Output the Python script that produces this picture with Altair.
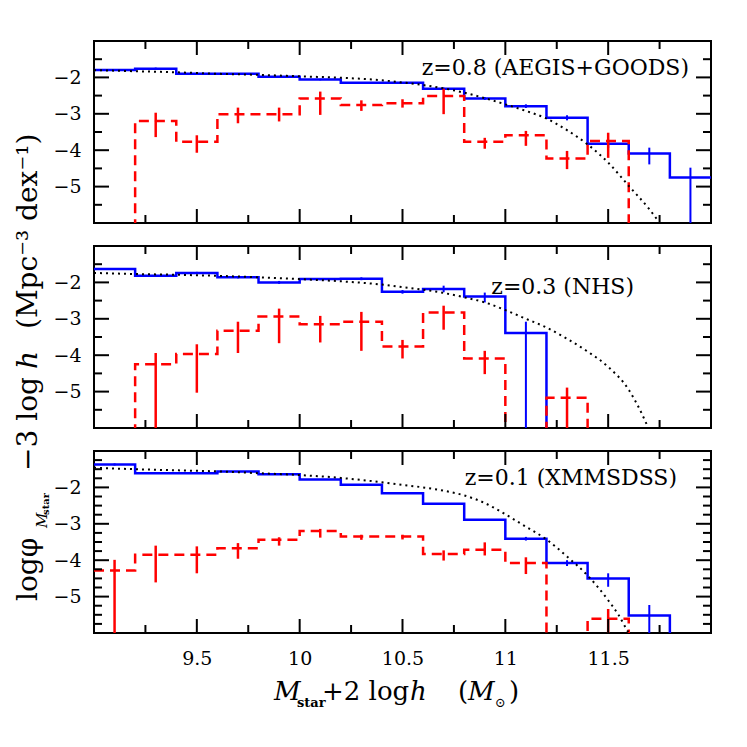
import altair as alt
import pandas as pd

FLOOR = -9.0  # empty bin: drawn below the bottom of the axis
bin_lo = [9.0, 9.2, 9.4, 9.6, 9.8, 10.0, 10.2, 10.4, 10.6, 10.8, 11.0, 11.2, 11.4, 11.6, 11.8]
last_edge = 12.0

# ---------------- panel 1 : z=0.8 (AEGIS+GOODS)
p1_blue = [-1.80, -1.76, -1.90, -1.90, -1.98, -2.06, -2.15, -2.15, -2.31, -2.58, -2.79, -3.11, -3.82, -4.09, -4.75]
p1_blue_eh = [0.02, 0.03, 0.02, 0.02, 0.02, 0.02, 0.02, 0.02, 0.03, 0.04, 0.05, 0.07, 0.10, 0.16, 0.27]
p1_blue_el = [0.02, 0.03, 0.02, 0.02, 0.02, 0.02, 0.02, 0.02, 0.03, 0.04, 0.05, 0.07, 0.12, 0.30, 3.00]
p1_red = [FLOOR, -3.20, -3.77, -3.01, -3.01, -2.58, -2.76, -2.71, -2.51, -3.77, -3.59, -4.23, -3.75, FLOOR, FLOOR]
p1_red_eh = [0, 0.23, 0.18, 0.18, 0.18, 0.19, 0.13, 0.11, 0.20, 0.11, 0.12, 0.21, 0.23, 0, 0]
p1_red_el = [0, 0.44, 0.30, 0.25, 0.20, 0.45, 0.16, 0.12, 0.50, 0.19, 0.29, 0.29, 0.46, 0, 0]
p1_curve_x = [9.0, 9.2, 9.4, 9.6, 9.8, 10.0, 10.2, 10.4, 10.5, 10.6, 10.7, 10.8, 10.9, 11.0, 11.1, 11.2, 11.3, 11.4, 11.5, 11.6, 11.7, 11.8]
p1_curve_y = [-1.80, -1.83, -1.86, -1.90, -1.93, -1.97, -2.01, -2.08, -2.14, -2.21, -2.30, -2.42, -2.57, -2.74, -2.92, -3.13, -3.45, -3.84, -4.34, -4.98, -5.62, -6.40]

# ---------------- panel 2 : z=0.3 (NHS)
p2_blue = [-1.63, -1.82, -1.74, -1.86, -2.00, -1.91, -1.90, -2.26, -2.18, -2.39, -3.39, FLOOR, FLOOR, FLOOR, FLOOR]
p2_blue_eh = [0.02, 0.03, 0.03, 0.03, 0.04, 0.03, 0.04, 0.05, 0.09, 0.11, 0.31, 0, 0, 0, 0]
p2_blue_el = [0.02, 0.03, 0.03, 0.03, 0.04, 0.03, 0.04, 0.05, 0.09, 0.16, 3.00, 0, 0, 0, 0]
p2_red = [FLOOR, -4.25, -3.97, -3.33, -2.94, -3.15, -3.08, -3.76, -2.83, -4.09, FLOOR, -5.17, FLOOR, FLOOR, FLOOR]
p2_red_eh = [0, 0.31, 0.27, 0.25, 0.22, 0.23, 0.27, 0.18, 0.19, 0.21, 0, 0.28, 0, 0, 0]
p2_red_el = [0, 3.00, 1.06, 0.61, 0.73, 0.50, 0.80, 0.33, 0.47, 0.43, 0, 3.00, 0, 0, 0]
p2_curve_x = [9.0, 9.2, 9.4, 9.6, 9.8, 10.0, 10.2, 10.4, 10.5, 10.6, 10.7, 10.8, 10.9, 11.0, 11.1, 11.2, 11.3, 11.4, 11.5, 11.6, 11.65, 11.7, 11.75]
p2_curve_y = [-1.74, -1.77, -1.79, -1.82, -1.86, -1.91, -1.97, -2.06, -2.13, -2.20, -2.29, -2.41, -2.55, -2.76, -3.00, -3.24, -3.55, -3.90, -4.32, -4.95, -5.45, -6.05, -6.60]

# ---------------- panel 3 : z=0.1 (XMMSDSS)
p3_blue = [-1.37, -1.61, -1.61, -1.56, -1.64, -1.78, -1.93, -2.16, -2.45, -2.89, -3.41, -4.08, -4.50, -5.52, FLOOR]
p3_blue_eh = [0.03, 0.01, 0.01, 0.01, 0.01, 0.01, 0.01, 0.02, 0.02, 0.02, 0.05, 0.08, 0.14, 0.29, 0]
p3_blue_el = [0.03, 0.01, 0.01, 0.01, 0.01, 0.01, 0.01, 0.02, 0.02, 0.02, 0.05, 0.08, 0.23, 3.00, 0]
p3_red = [-4.28, -3.85, -3.85, -3.67, -3.44, -3.20, -3.35, -3.35, -3.83, -3.71, -4.08, FLOOR, -5.61, FLOOR, FLOOR]
p3_red_eh = [0.29, 0.25, 0.23, 0.14, 0.07, 0.06, 0.05, 0.05, 0.10, 0.20, 0.16, 0, 0.27, 0, 0]
p3_red_el = [3.00, 0.76, 0.51, 0.29, 0.16, 0.18, 0.09, 0.08, 0.18, 0.16, 0.30, 0, 3.00, 0, 0]
p3_curve_x = [9.0, 9.2, 9.4, 9.6, 9.8, 10.0, 10.2, 10.4, 10.5, 10.6, 10.7, 10.8, 10.9, 11.0, 11.1, 11.2, 11.3, 11.4, 11.5, 11.55, 11.6, 11.65]
p3_curve_y = [-1.46, -1.50, -1.53, -1.56, -1.61, -1.66, -1.74, -1.86, -1.93, -2.00, -2.09, -2.22, -2.43, -2.74, -3.08, -3.43, -3.90, -4.42, -5.10, -5.50, -6.00, -6.40]

panel_labels = ["z=0.8 (AEGIS+GOODS)", "z=0.3 (NHS)", "z=0.1 (XMMSDSS)"]

x_major = [9.5, 10.0, 10.5, 11.0, 11.5]
x_minor = [9.25, 9.75, 10.25, 10.75, 11.25, 11.75]
y_major = [-2, -3, -4, -5]
y_minor_half = [-1.5, -2.5, -3.5, -4.5, -5.5]
y_minor_quarter = [-1.25, -1.5, -1.75, -2.25, -2.5, -2.75, -3.25, -3.5, -3.75,
                   -4.25, -4.5, -4.75, -5.25, -5.5, -5.75]

W, H = 617, 182
FONT = "DejaVu Serif"
BLUE, RED = "#0000ff", "#ff0000"

xs = alt.Scale(domain=[9.0, 12.0], nice=False, zero=False)
ys = alt.Scale(domain=[-6.0, -1.0], nice=False, zero=False)


def X(show):
    if show:
        ax = alt.Axis(values=x_major, format="~g", ticks=False, domain=False, grid=False,
                      labelFont=FONT, labelFontSize=19, labelColor="black", labelPadding=16,
                      title=None, labelFlush=False)
    else:
        ax = None
    return alt.X("x:Q", scale=xs, axis=ax)


YAX = alt.Axis(values=y_major, format="~g", ticks=False, domain=False, grid=False,
               labelFont=FONT, labelFontSize=19, labelColor="black", labelPadding=13, title=None)


def Y():
    return alt.Y("y:Q", scale=ys, axis=YAX)


def steps(vals):
    return pd.DataFrame({"x": bin_lo + [last_edge], "y": vals + [vals[-1]]})


def errs(vals, eh, el):
    rows = []
    for b, v, h, l in zip(bin_lo, vals, eh, el):
        if v > FLOOR:
            rows.append({"x": round(b + 0.1, 2), "y": v + h, "y2": v - l})
    return pd.DataFrame(rows)


def panel(blue, beh, bel, red, reh, rel, cx, cy, label, lab_x, lab_y, yminor, show_x, extra=None):
    layers = []
    # histograms
    layers.append(alt.Chart(steps(blue)).mark_line(interpolate="step-after", color=BLUE,
                                                   strokeWidth=2.5, clip=True)
                  .encode(x=X(show_x), y=Y()))
    layers.append(alt.Chart(steps(red)).mark_line(interpolate="step-after", color=RED,
                                                  strokeWidth=2.5, strokeDash=[10, 6], clip=True)
                  .encode(x=X(show_x), y=Y()))
    # error bars
    layers.append(alt.Chart(errs(blue, beh, bel)).mark_rule(color=BLUE, strokeWidth=2, clip=True)
                  .encode(x=X(show_x), y=Y(), y2="y2:Q"))
    layers.append(alt.Chart(errs(red, reh, rel)).mark_rule(color=RED, strokeWidth=2.5, clip=True)
                  .encode(x=X(show_x), y=Y(), y2="y2:Q"))
    # dotted model curve
    layers.append(alt.Chart(pd.DataFrame({"x": cx, "y": cy}))
                  .mark_line(color="black", strokeWidth=2, strokeDash=[2, 4], clip=True,
                             interpolate="monotone")
                  .encode(x=X(show_x), y=Y()))
    # inward ticks
    for vals, L in ((x_major, 14), (x_minor, 8)):
        d = pd.DataFrame({"x": vals})
        layers.append(alt.Chart(d).mark_rule(color="black", strokeWidth=2)
                      .encode(x=X(show_x), y=alt.value(H), y2=alt.value(H - L)))
        layers.append(alt.Chart(d).mark_rule(color="black", strokeWidth=2)
                      .encode(x=X(show_x), y=alt.value(0), y2=alt.value(L)))
    for vals, L in ((y_major, 15), (yminor, 8)):
        d = pd.DataFrame({"y": vals})
        layers.append(alt.Chart(d).mark_rule(color="black", strokeWidth=2)
                      .encode(y=Y(), x=alt.value(0), x2=alt.value(L)))
        layers.append(alt.Chart(d).mark_rule(color="black", strokeWidth=2)
                      .encode(y=Y(), x=alt.value(W), x2=alt.value(W - L)))
    # panel label
    layers.append(alt.Chart(pd.DataFrame({"label": [label]}))
                  .mark_text(align="right", baseline="alphabetic", font=FONT, fontSize=22,
                             color="black")
                  .encode(x=alt.value(lab_x), y=alt.value(lab_y), text="label:N"))
    if extra:
        layers.extend(extra)
    return alt.layer(*layers).properties(width=W, height=H)


def txt(s, x, y, size, angle=0, style="normal", weight="normal"):
    kw = dict(align="left", baseline="alphabetic", font=FONT, fontSize=size,
              fontStyle=style, fontWeight=weight, color="black")
    if angle:
        kw["angle"] = angle
    return (alt.Chart(pd.DataFrame({"t": [s]})).mark_text(**kw)
            .encode(x=alt.value(x), y=alt.value(y), text="t:N"))


# y-axis title (placed relative to the middle panel, rotated)
ytitle = [
    txt("logφ", -57, 355, 28, angle=270),
    txt("M", -47, 282, 15, angle=270, style="italic"),
    txt("star", -45, 269, 10, angle=270, weight="bold"),
    txt("−3 log", -57, 225, 28, angle=270),
    txt("h", -57, 123, 28, angle=270, style="italic"),
    txt("(Mpc⁻³ dex⁻¹)", -57, 83, 28, angle=270),
]

# x-axis title (placed relative to the bottom panel)
xtitle = [
    txt("M", 180, 249, 26, style="italic"),
    txt("star", 203, 256, 13, weight="bold"),
    txt("+2 log", 228, 249, 26),
    txt("h", 316, 249, 26, style="italic"),
    txt("(", 364, 249, 26),
    txt("M", 374, 249, 26, style="italic"),
    txt("⊙", 401, 256, 13),
    txt(")", 415, 249, 26),
]

c1 = panel(p1_blue, p1_blue_eh, p1_blue_el, p1_red, p1_red_eh, p1_red_el,
           p1_curve_x, p1_curve_y, panel_labels[0], 595, 34, y_minor_half, False)
c2 = panel(p2_blue, p2_blue_eh, p2_blue_el, p2_red, p2_red_eh, p2_red_el,
           p2_curve_x, p2_curve_y, panel_labels[1], 540, 48, y_minor_half, False, extra=ytitle)
c3 = panel(p3_blue, p3_blue_eh, p3_blue_el, p3_red, p3_red_eh, p3_red_el,
           p3_curve_x, p3_curve_y, panel_labels[2], 583, 34, y_minor_quarter, True, extra=xtitle)

chart = (alt.vconcat(c1, c2, c3, spacing=23, bounds="flush")
         .properties(padding={"left": 5, "top": 31, "right": 10, "bottom": 5},
                     background="white")
         .configure_view(stroke="black", strokeWidth=2)
         .configure_axis(labelColor="black"))

chart.save("out.html", embed_options={"renderer": "svg", "actions": False})
